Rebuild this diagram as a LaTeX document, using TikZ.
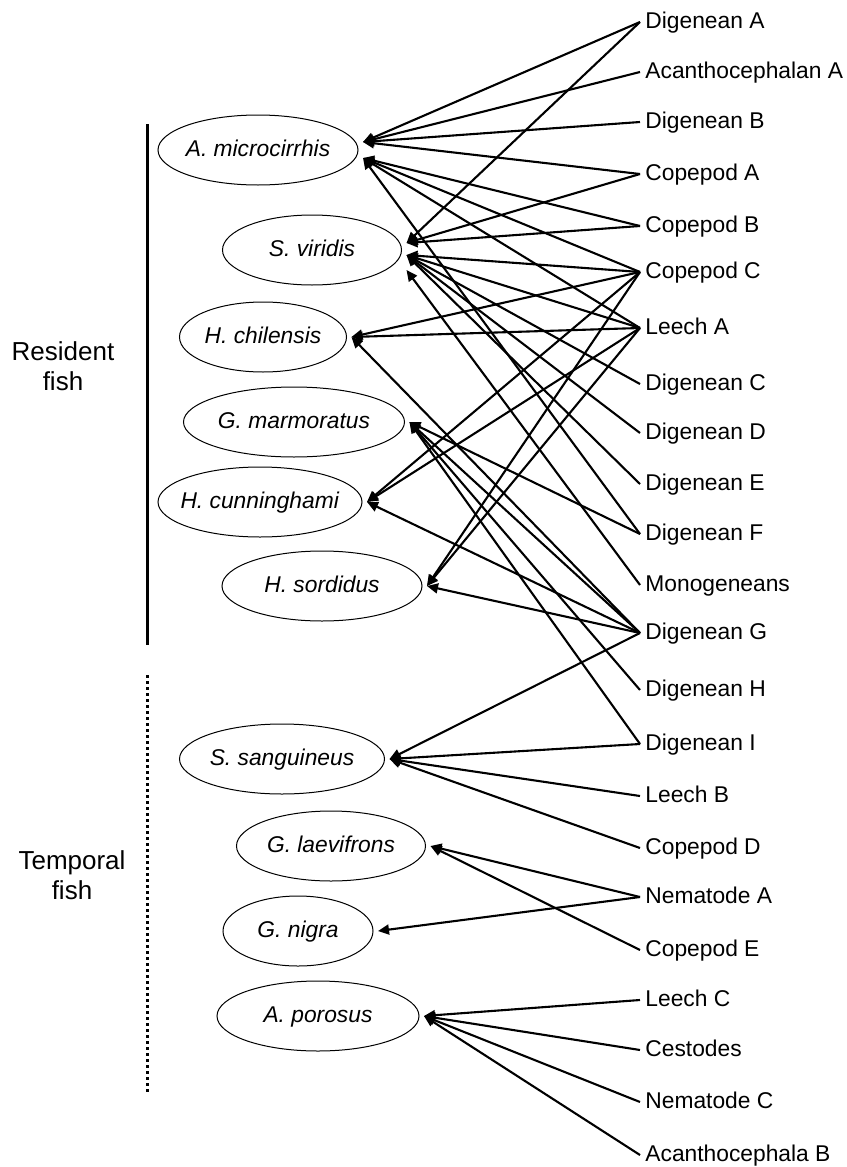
\documentclass[tikz,border=0pt]{standalone}
\usepackage{fontspec}
\setmainfont{Liberation Sans}
\usetikzlibrary{arrows.meta,shapes.geometric}
\newcommand\fishname[1]{\makebox[0pt]{\textit{#1}}}
\def\parx{640}
\def\linex{147}

\begin{document}
\begin{tikzpicture}[
    x=0.5pt, y=-0.5pt,
    fish/.style={
      draw, ellipse, line width=0.5pt,
      inner sep=0pt, outer sep=2.5pt,
      minimum height=35pt,
      text height=8pt, text depth=2pt,
      font=\fontsize{11.4}{13.7}\selectfont
    },
    parasite/.style={
      anchor=west, inner xsep=2.5pt, inner ysep=0pt,
      text height=8pt, text depth=2pt,
      font=\fontsize{11.4}{13.7}\selectfont
    },
    grouplabel/.style={
      align=center, font=\fontsize{13}{15}\selectfont
    },
    arrowtip/.style={
      -{Triangle[length=5.5pt,width=5pt]}, line width=1.05pt
    },
    groupline/.style={line width=1.5pt}
  ]
    \useasboundingbox (0,0) rectangle (846,1167);

    % resident fish
    \node[fish, minimum width=100pt] (AMicro) at (258,150) {\fishname{A. microcirrhis}};
    \node[fish, minimum width=89.5pt] (SViridis) at (312,250) {\fishname{S. viridis}};
    \node[fish, minimum width=83.5pt] (HChil) at (263,337) {\fishname{H. chilensis}};
    \node[fish, minimum width=110.5pt] (GMarm) at (294,422) {\fishname{G. marmoratus}};
    \node[fish, minimum width=102pt] (HCunn) at (260,502) {\fishname{H. cunninghami}};
    \node[fish, minimum width=100pt] (HSord) at (322,586) {\fishname{H. sordidus}};

    % temporal fish
    \node[fish, minimum width=102.5pt] (SSang) at (282,759) {\fishname{S. sanguineus}};
    \node[fish, minimum width=94.5pt] (GLaev) at (331,846) {\fishname{G. laevifrons}};
    \node[fish, minimum width=75pt] (GNigra) at (298,931) {\fishname{G. nigra}};
    \node[fish, minimum width=101pt] (APorosus) at (318,1016) {\fishname{A. porosus}};

    % parasites
    \node[parasite] (DigA) at (\parx,22) {Digenean A};
    \node[parasite] (AcanA) at (\parx,72) {Acanthocephalan A};
    \node[parasite] (DigB) at (\parx,122) {Digenean B};
    \node[parasite] (CopA) at (\parx,174) {Copepod A};
    \node[parasite] (CopB) at (\parx,226) {Copepod B};
    \node[parasite] (CopC) at (\parx,272) {Copepod C};
    \node[parasite] (LeechA) at (\parx,328) {Leech A};
    \node[parasite] (DigC) at (\parx,384) {Digenean C};
    \node[parasite] (DigD) at (\parx,433) {Digenean D};
    \node[parasite] (DigE) at (\parx,484) {Digenean E};
    \node[parasite] (DigF) at (\parx,534) {Digenean F};
    \node[parasite] (Mono) at (\parx,585) {Monogeneans};
    \node[parasite] (DigG) at (\parx,633) {Digenean G};
    \node[parasite] (DigH) at (\parx,690) {Digenean H};
    \node[parasite] (DigI) at (\parx,744) {Digenean I};
    \node[parasite] (LeechB) at (\parx,796) {Leech B};
    \node[parasite] (CopD) at (\parx,848) {Copepod D};
    \node[parasite] (NemA) at (\parx,897) {Nematode A};
    \node[parasite] (CopE) at (\parx,950) {Copepod E};
    \node[parasite] (LeechC) at (\parx,1000) {Leech C};
    \node[parasite] (Cest) at (\parx,1050) {Cestodes};
    \node[parasite] (NemC) at (\parx,1102) {Nematode C};
    \node[parasite] (AcanB) at (\parx,1155) {Acanthocephala B};

    % group brackets
    \coordinate (ResTop) at (\linex,124);
    \coordinate (ResBot) at (\linex,645);
    \coordinate (TempTop) at (\linex,675);
    \coordinate (TempBot) at (\linex,1093);
    \draw[groupline] (ResTop) -- (ResBot);
    \draw[groupline, dash pattern=on 1.5pt off 1.5pt] (TempTop) -- (TempBot);
    \node[grouplabel] (ResLabel) at (63,366) {Resident\\fish};
    \node[grouplabel] (TempLabel) at (72,875) {Temporal\\fish};

    % arrow ends on the busy ellipses
    \coordinate (AMicroHi) at ([yshift=4pt]AMicro.east);
    \coordinate (AMicroLo) at ([yshift=-4pt]AMicro.east);
    \coordinate (SViridisHi) at ([yshift=3.5pt]SViridis.east);
    \coordinate (SViridisMid) at ([yshift=-2.5pt]SViridis.east);
    \coordinate (SViridisLo) at ([yshift=-10pt]SViridis.east);

    \path[arrowtip] (DigA.west) edge (AMicroHi) edge (SViridisHi);
    \path[arrowtip] (AcanA.west) edge (AMicroHi);
    \path[arrowtip] (DigB.west) edge (AMicroHi);
    \path[arrowtip] (CopA.west) edge (AMicroHi) edge (SViridisHi);
    \path[arrowtip] (CopB.west) edge (AMicroLo) edge (SViridisHi);
    \path[arrowtip] (CopC.west) edge (AMicroLo) edge (SViridisMid)
      edge (HChil.east) edge (HCunn.east) edge (HSord.east);
    \path[arrowtip] (LeechA.west) edge (AMicroLo) edge (SViridisMid)
      edge (HChil.east) edge (HCunn.east) edge (HSord.east);
    \path[arrowtip] (DigC.west) edge (SViridisMid);
    \path[arrowtip] (DigD.west) edge (SViridisMid);
    \path[arrowtip] (DigE.west) edge (SViridisMid);
    \path[arrowtip] (DigF.west) edge (AMicroLo) edge (GMarm.east);
    \path[arrowtip] (Mono.west) edge (SViridisLo);
    \path[arrowtip] (DigG.west) edge (HChil.east) edge (GMarm.east)
      edge (HCunn.east) edge (HSord.east) edge (SSang.east);
    \path[arrowtip] (DigH.west) edge (GMarm.east);
    \path[arrowtip] (DigI.west) edge (GMarm.east) edge (SSang.east);
    \path[arrowtip] (LeechB.west) edge (SSang.east);
    \path[arrowtip] (CopD.west) edge (SSang.east);
    \path[arrowtip] (NemA.west) edge (GLaev.east) edge (GNigra.east);
    \path[arrowtip] (CopE.west) edge (GLaev.east);
    \path[arrowtip] (LeechC.west) edge (APorosus.east);
    \path[arrowtip] (Cest.west) edge (APorosus.east);
    \path[arrowtip] (NemC.west) edge (APorosus.east);
    \path[arrowtip] (AcanB.west) edge (APorosus.east);
  \end{tikzpicture}
\end{document}
